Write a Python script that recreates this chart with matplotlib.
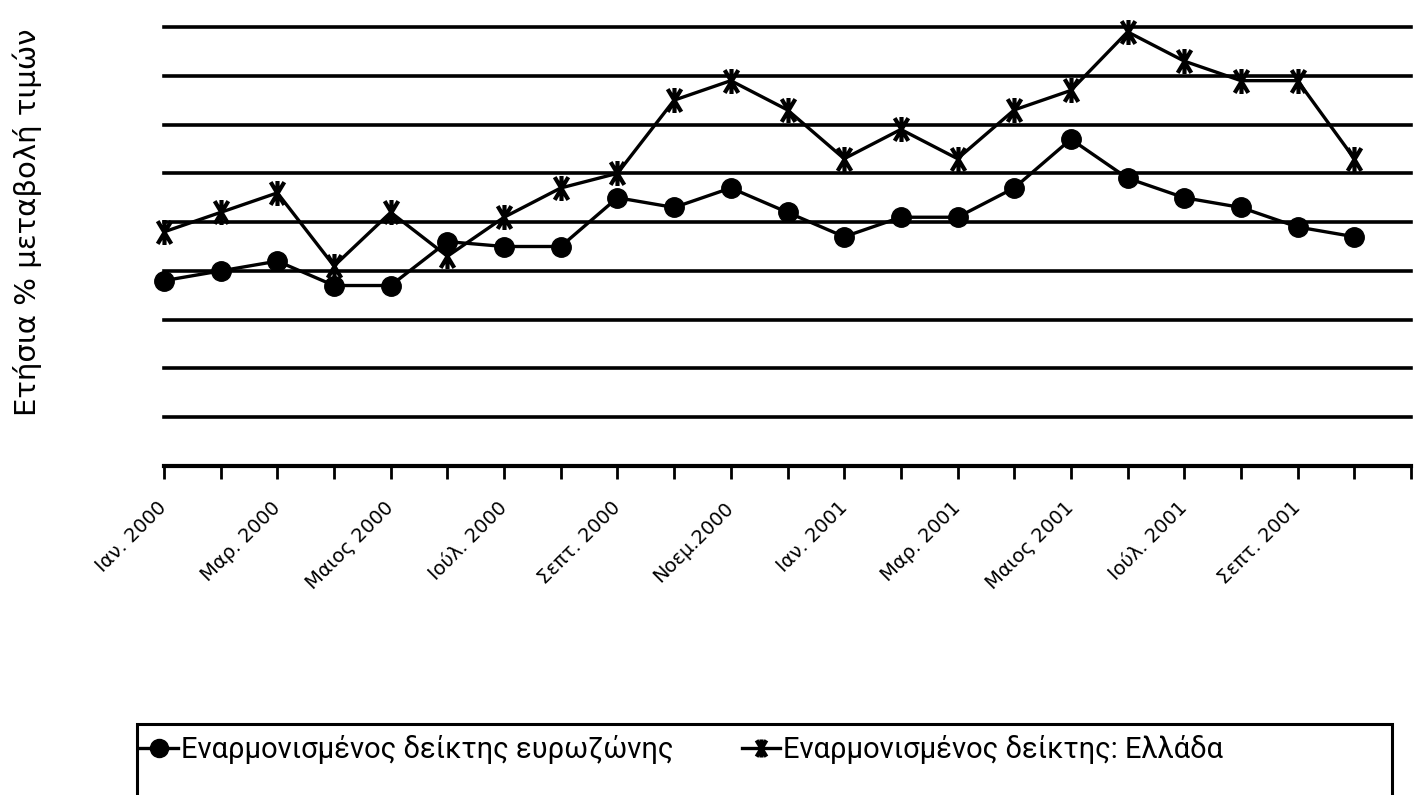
"""
Annual % change of the harmonised index of consumer prices,
euro area vs Greece, Jan 2000 - Oct 2001.
Saves out.png
"""

import matplotlib
matplotlib.use("Agg")
import matplotlib.pyplot as plt
from matplotlib.path import Path
from matplotlib.patches import Rectangle
import numpy as np

W, H = 1415, 795

fontsize_labels = 21
fontsize_ticks = 14
fontsize_legends = 21

lw_plots = 2.4
lw_grid = 2.6

# data (no y tick labels shown, scale 0 - 4.5, grid every 0.5)
months = ["Ιαν. 2000", "Φεβ. 2000", "Μαρ. 2000", "Απρ. 2000", "Μαιος 2000", "Ιουν. 2000",
          "Ιούλ. 2000", "Αυγ. 2000", "Σεπ. 2000", "Οκτ. 2000", "Νοεμ.2000", "Δεκ. 2000",
          "Ιαν. 2001", "Φεβ. 2001", "Μαρ. 2001", "Απρ. 2001", "Μαιος 2001", "Ιουν. 2001",
          "Ιούλ. 2001", "Αυγ. 2001", "Σεπτ. 2001", "Οκτ. 2001"]
tick_labels = ["Ιαν. 2000", "", "Μαρ. 2000", "", "Μαιος 2000", "", "Ιούλ. 2000", "",
               "Σεπτ. 2000", "", "Νοεμ.2000", "", "Ιαν. 2001", "", "Μαρ. 2001", "",
               "Μαιος 2001", "", "Ιούλ. 2001", "", "Σεπτ. 2001", "", ""]

eurozone = [1.9, 2.0, 2.1, 1.85, 1.85, 2.3, 2.25, 2.25, 2.75, 2.65, 2.85, 2.6,
            2.35, 2.55, 2.55, 2.85, 3.35, 2.95, 2.75, 2.65, 2.45, 2.35]
greece = [2.4, 2.6, 2.8, 2.05, 2.6, 2.15, 2.55, 2.85, 3.0, 3.75, 3.95, 3.65,
          3.15, 3.45, 3.15, 3.65, 3.85, 4.45, 4.15, 3.95, 3.95, 3.15]

legend_labels = ["Εναρμονισμένος δείκτης ευρωζώνης", "Εναρμονισμένος δείκτης: Ελλάδα"]
ylabel = "Ετήσια % μεταβολή τιμών"

# star marker: X with a vertical bar through it
star = Path([(-0.6, -1), (0.6, 1), (0.6, -1), (-0.6, 1), (0, -1.1), (0, 1.1)],
            [Path.MOVETO, Path.LINETO] * 3)

fig = plt.figure(figsize=(W / 100, H / 100), dpi=100)
ax = fig.add_axes([164 / W, 1 - 466 / H, (1411 - 164) / W, (466 - 27) / H])

x = np.arange(len(months))

l_gr, = ax.plot(x, greece, color="k", linewidth=lw_plots, marker=star, markersize=18,
                markeredgewidth=3, clip_on=False, zorder=4)
l_ez, = ax.plot(x, eurozone, color="k", linewidth=lw_plots, marker="o", markersize=14,
                clip_on=False, zorder=5)

# grid
ax.set_ylim(0, 4.5)
ax.set_yticks(np.arange(0.5, 4.51, 0.5))
ax.yaxis.grid(True, color="k", linewidth=lw_grid)
for gl in ax.get_ygridlines():
    gl.set_clip_on(False)
ax.tick_params(axis="y", length=0, labelleft=False)
ax.set_axisbelow(True)

ax.set_xlim(0, 22)
ax.set_xticks(np.arange(23))
ax.set_xticklabels(tick_labels, rotation=45, ha="right", va="center",
                   rotation_mode="anchor", fontsize=fontsize_ticks)
ax.tick_params(axis="x", direction="out", length=9, width=2, pad=19)

for side in ["left", "right", "top"]:
    ax.spines[side].set_visible(False)
ax.spines["bottom"].set_linewidth(3)

fig.text(27 / W, 1 - 222 / H, ylabel, rotation=90, ha="center", va="center",
         fontsize=fontsize_labels)

# legend: one entry each, placed like the original, box runs off the bottom
legend_font = {"family": ["Roboto", "DejaVu Sans"], "size": fontsize_legends}
for handle, label, x0 in [(l_ez, legend_labels[0], 140), (l_gr, legend_labels[1], 742)]:
    leg = fig.legend([handle], [label], loc="center left",
                     bbox_to_anchor=(x0 / W, 1 - 750 / H), frameon=False,
                     handlelength=1.3, handletextpad=0.12,
                     borderaxespad=0, borderpad=0, prop=legend_font)
    for line in leg.get_lines():
        line.set_markersize(13)

fig.patches.append(Rectangle((137 / W, -0.05), (1392 - 137) / W, 0.05 + (795 - 724) / H,
                             transform=fig.transFigure, fill=False,
                             edgecolor="k", linewidth=2.2, clip_on=False))

fig.savefig("out.png", dpi=100)
